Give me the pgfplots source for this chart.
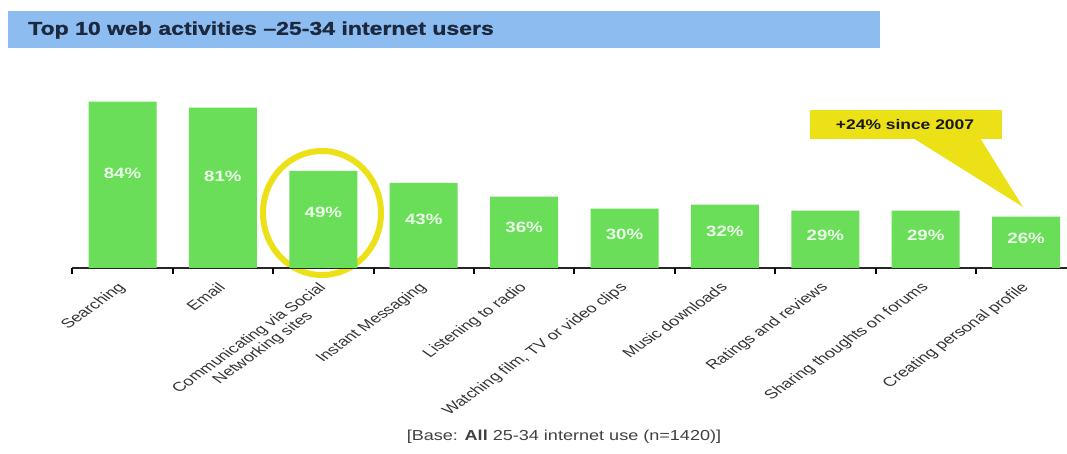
\documentclass[border=0pt]{standalone}
\usepackage{pgfplots}
\pgfplotsset{compat=1.18}
\usepackage{fontspec}
\setmainfont{Liberation Sans}[FakeStretch=1.25]
\newfontfamily\labelfont{Liberation Sans}
\newfontfamily\titlefont{Liberation Sans}[FakeStretch=1.25, FakeBold=1.2]
\definecolor{bargreen}{RGB}{106,222,88}
\definecolor{titleblue}{RGB}{141,189,240}
\definecolor{titletext}{RGB}{28,40,62}
\definecolor{hiyellow}{RGB}{236,224,22}
\begin{document}
\begin{tikzpicture}[x=1bp,y=1bp]
\useasboundingbox (0,0) rectangle (1067,454);
\fill[titleblue] (8,406) rectangle (880,443);
\node[anchor=west, text=titletext, font=\titlefont\fontsize{18.5}{20}\selectfont\bfseries, inner sep=0] at (28,424) {Top 10 web activities –25-34 internet users};
\draw[hiyellow, line width=6bp] (322,241) ellipse [x radius=59, y radius=62];
\begin{axis}[
  at={(72.3bp,186bp)}, anchor=south west,
  x=100.4bp, y=1.98bp,
  xmin=-0.5, xmax=9.43, ymin=0, ymax=90,
  axis x line=bottom, axis y line=none,
  x axis line style={-, line width=2.5bp, black!85},
  ybar, bar width=68bp,
  /pgf/number format/assume math mode=true,
  xtick={0,...,9},
  xticklabels={Searching, Email, {Communicating via Social\\Networking sites}, Instant Messaging, Listening to radio, {Watching film, TV or video clips}, Music downloads, Ratings and reviews, Sharing thoughts on forums, Creating personal profile},
  major tick length=0pt,
  xticklabel style={xshift=-6bp, yshift=-12bp, xscale=1.4, rotate=45, anchor=north east, align=center, font=\labelfont\fontsize{13}{14}\selectfont, text=black!80, inner sep=1bp},
  extra x ticks={-0.5,0.5,...,8.5},
  extra x tick labels={},
  extra x tick style={major tick length=6bp, tick align=outside, tick style={line width=2bp, black}},
  nodes near coords={\pgfmathprintnumber{\pgfplotspointmeta}\%},
  visualization depends on={rawy \as \rawy},
  every node near coord/.append style={anchor=center, yshift={-0.851*\rawy*1bp}, text=white!92!green, font=\fontsize{15}{16}\selectfont\bfseries},
  clip=false,
]
\addplot[fill=bargreen, draw=none] coordinates {(0,84) (1,81) (2,49) (3,43) (4,36) (5,30) (6,32) (7,29) (8,29) (9,26)};
\end{axis}
\fill[hiyellow] (913,316) -- (1023,247) -- (980,316) -- cycle;
\fill[hiyellow] (810,315) rectangle (1002,344);
\node[font=\fontsize{14}{15}\selectfont\bfseries, text=black!90] at (905,329.5) {+24\% since 2007};
\node[font=\fontsize{14.5}{16}\selectfont, text=black!75] at (564,17) {[Base: \textbf{All} 25-34 internet use (n=1420)]};
\end{tikzpicture}
\end{document}
